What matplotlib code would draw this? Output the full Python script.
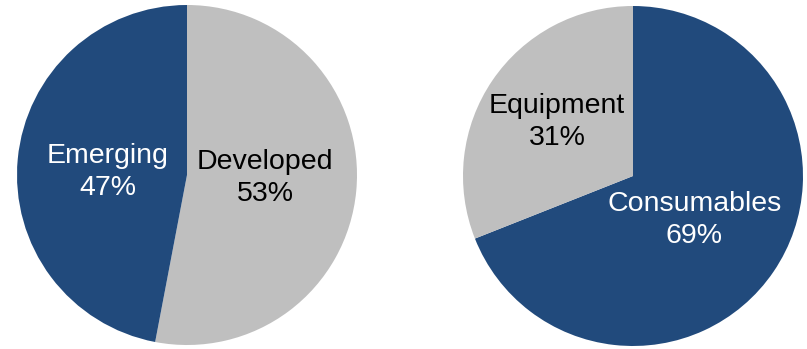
import matplotlib.pyplot as plt

# Left pie: regions
region_labels = ["Developed", "Emerging"]
region_values = [53, 47]

# Right pie: product type
product_labels = ["Consumables", "Equipment"]
product_values = [69, 31]

navy = "#214A7C"
gray = "#BFBFBF"

plt.rcParams['font.family'] = ['Liberation Sans Narrow', 'Liberation Sans', 'DejaVu Sans']

W, H = 807, 349
fig = plt.figure(figsize=(W / 100, H / 100), dpi=100)


def draw_pie(cx, cy, r, labels, values, colors, text_colors, spots):
    ax = fig.add_axes([(cx - r) / W, (H - cy - r) / H, 2 * r / W, 2 * r / H])
    ax.pie(values, colors=colors, startangle=90, counterclock=False,
           radius=1, wedgeprops=dict(linewidth=0))
    for lab, val, tc, (x, y) in zip(labels, values, text_colors, spots):
        ax.text(x, y, f"{lab}\n{val}%", color=tc, ha="center", va="center",
                fontsize=20.5, linespacing=1.3)
    ax.set_xlim(-1, 1)
    ax.set_ylim(-1, 1)
    ax.set_aspect("equal")
    ax.axis("off")


draw_pie(187, 175, 170, region_labels, region_values, [gray, navy],
         ["black", "white"], [(0.46, -0.02), (-0.465, 0.02)])
draw_pie(633, 176, 170, product_labels, product_values, [navy, gray],
         ["white", "black"], [(0.36, -0.26), (-0.447, 0.318)])

fig.savefig("out.png", dpi=100)
